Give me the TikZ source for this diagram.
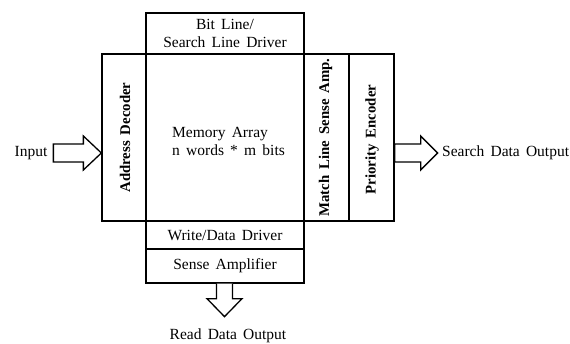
\documentclass[tikz,border=0pt]{standalone}
\usepackage{fontspec}
\setmainfont[WordSpace=1.6]{Liberation Serif}
\usetikzlibrary{calc}
\begin{document}
\begin{tikzpicture}[x=1pt,y=-1pt,
  txt/.style={font=\fontsize{15.5}{18}\selectfont, inner sep=0pt},
  blk/.style={draw, line width=1.3pt, inner sep=0pt, txt},
  vtxt/.style={txt, rotate=90, font=\fontsize{14.8}{17.5}\selectfont\bfseries},
  barrow/.style={draw, line width=1.3pt, fill=white, line join=miter}
]
\useasboundingbox (0,0) rectangle (570,343);
% blocks
\node[blk, minimum width=158, minimum height=41, align=center] (bl) at (225,33.5) {Bit Line/\\Search Line Driver};
\node[blk, minimum width=44, minimum height=167] (ad) at (124,137.5) {};
\node[blk, minimum width=158, minimum height=167] (ma) at (225,137.5) {};
\node[blk, minimum width=45, minimum height=167] (ml) at (326.5,137.5) {};
\node[blk, minimum width=45, minimum height=167] (pe) at (371.5,137.5) {};
\node[blk, minimum width=158, minimum height=28] (wd) at (225,235) {Write/Data Driver};
\node[blk, minimum width=158, minimum height=34] (sa) at (225,266) {Sense Amplifier};
% labels inside
\node[vtxt] (adt) at (125,137.5) {Address Decoder};
\node[vtxt] (mlt) at (325.5,137.5) {Match Line Sense Amp.};
\node[vtxt] (pet) at (372,139.5) {Priority Encoder};
\node[txt, align=left, anchor=west] (mat) at (172,141) {Memory Array\\n words * m bits};
% external labels
\node[txt] (in) at (31,153) {Input};
\node[txt, anchor=west] (sdo) at (442,153) {Search Data Output};
\node[txt] (rdo) at (228,336) {Read Data Output};
% block arrows
\coordinate (intip) at (ad.west |- 0,153);
\draw[barrow] (intip) -- ++(-18,-17) -- ++(0,8) -- ++(-30,0) -- ++(0,18) -- ++(30,0) -- ++(0,8) -- cycle;
\coordinate (sbase) at (pe.east |- 0,153);
\draw[barrow] (sbase) ++(0,-9) -- ++(26,0) -- ++(0,-8) -- ++(17,17) -- ++(-17,17) -- ++(0,-8) -- ++(-26,0) -- cycle;
\coordinate (rbase) at (224.5,0 |- sa.south);
\draw[barrow] (rbase) ++(-8,0) -- ++(0,15) -- ++(-9.5,0) -- ++(17.5,18) -- ++(17.5,-18) -- ++(-9.5,0) -- ++(0,-15);
\end{tikzpicture}
\end{document}
